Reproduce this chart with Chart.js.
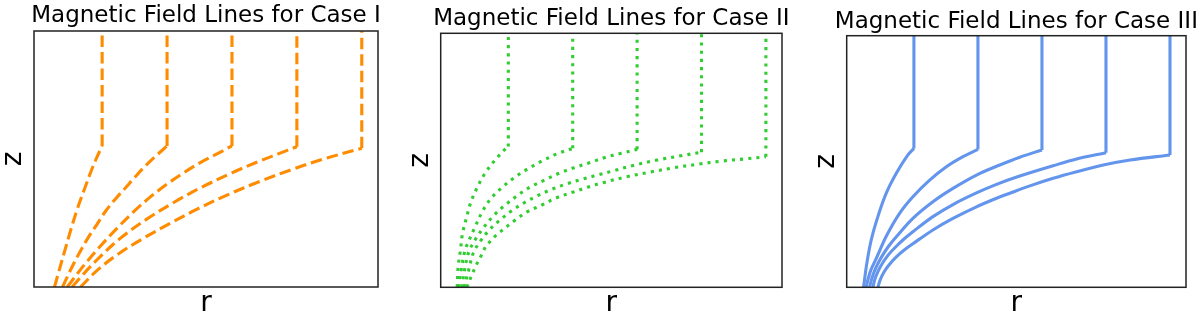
<!DOCTYPE html>
<html>
<head>
<meta charset="utf-8">
<script src="https://cdn.jsdelivr.net/npm/chart.js@4.4.1/dist/chart.umd.min.js"></script>
<style>
  body { margin: 0; background: #fff; }
  #wrap { position: relative; width: 1200px; height: 321px; }
  canvas { position: absolute; top: 0; }
</style>
</head>
<body>
<div id="wrap">
  <canvas id="caso1" width="400" height="321" style="left:0px"></canvas>
  <canvas id="caso2" width="400" height="321" style="left:400px"></canvas>
  <canvas id="caso3" width="400" height="321" style="left:800px"></canvas>
</div>
<script>
// titulos de cada panel
var titulos = ['Magnetic Field Lines for Case I', 'Magnetic Field Lines for Case II', 'Magnetic Field Lines for Case III'];

// r donde cada linea se vuelve vertical, y altura final (tope del eje)
var rVertical = [1, 2, 3, 4, 5];
var zTope = 10;

// Caso I
var case1R = [
  [0.266, 0.343, 0.428, 0.512, 0.612, 0.728, 0.843, 0.928, 1],
  [0.389, 0.543, 0.666, 0.789, 0.923, 1.055, 1.205, 1.358, 1.508, 1.666, 1.846, 2],
  [0.462, 0.615, 0.769, 0.974, 1.231, 1.486, 1.743, 2.0, 2.255, 2.512, 2.769, 3],
  [0.538, 0.692, 0.923, 1.282, 1.692, 2.102, 2.512, 3.0, 3.435, 3.723, 4],
  [0.666, 0.923, 1.231, 1.640, 2.051, 2.462, 2.923, 3.435, 3.923, 4.400, 5]
];
var case1Z = [
  [0, 0.70, 1.45, 2.19, 3.01, 3.83, 4.61, 5.12, 5.51],
  [0, 0.82, 1.41, 1.95, 2.46, 2.97, 3.44, 3.87, 4.30, 4.73, 5.16, 5.51],
  [0, 0.51, 1.00, 1.60, 2.30, 2.94, 3.52, 4.02, 4.46, 4.86, 5.20, 5.51],
  [0, 0.45, 1.07, 1.91, 2.66, 3.30, 3.87, 4.46, 4.93, 5.21, 5.48],
  [0, 0.65, 1.26, 1.91, 2.49, 3.04, 3.59, 4.13, 4.59, 4.99, 5.42]
];

// Caso II
var case2R = [
  [0.206, 0.221, 0.257, 0.288, 0.350, 0.418, 0.515, 0.639, 0.794, 0.954, 1],
  [0.229, 0.276, 0.330, 0.392, 0.474, 0.588, 0.721, 0.898, 1.093, 1.300, 1.522, 1.754, 2],
  [0.276, 0.330, 0.387, 0.489, 0.619, 0.768, 0.938, 1.130, 1.336, 1.563, 1.789, 2.022, 2.269, 2.512, 2.755, 3],
  [0.314, 0.384, 0.458, 0.567, 0.706, 0.872, 1.046, 1.248, 1.455, 1.676, 1.904, 2.141, 2.384, 2.621, 2.941, 3.313, 3.684, 4],
  [0.356, 0.433, 0.511, 0.588, 0.644, 0.717, 0.799, 0.898, 1.093, 1.300, 1.522, 1.754, 1.997, 2.229, 2.471, 2.837, 3.209, 3.580, 3.957, 4.319, 4.695, 5]
];
var case2Z = [
  [0, 0.81, 1.47, 2.10, 2.74, 3.35, 3.92, 4.49, 5.01, 5.45, 5.54],
  [0, 0.81, 1.47, 1.86, 2.32, 2.94, 3.47, 3.92, 4.32, 4.66, 4.97, 5.25, 5.47],
  [0, 0.81, 1.40, 1.89, 2.36, 2.81, 3.21, 3.59, 3.94, 4.22, 4.49, 4.71, 4.91, 5.12, 5.28, 5.43],
  [0, 0.68, 1.36, 1.82, 2.26, 2.65, 3.00, 3.33, 3.61, 3.86, 4.07, 4.25, 4.42, 4.58, 4.80, 5.01, 5.18, 5.32],
  [0, 0.48, 0.92, 1.29, 1.58, 1.80, 2.02, 2.23, 2.62, 2.98, 3.24, 3.53, 3.74, 3.94, 4.12, 4.35, 4.54, 4.71, 4.85, 4.97, 5.06, 5.14]
];

// Caso III
var case3R = [
  [0.213, 0.264, 0.333, 0.437, 0.568, 0.725, 0.906, 1],
  [0.255, 0.283, 0.330, 0.412, 0.568, 0.776, 0.984, 1.246, 1.507, 1.767, 2],
  [0.307, 0.346, 0.408, 0.495, 0.604, 0.725, 0.984, 1.297, 1.610, 1.977, 2.341, 2.654, 3],
  [0.358, 0.400, 0.478, 0.588, 0.725, 0.854, 0.984, 1.297, 1.610, 1.977, 2.290, 2.654, 3.175, 3.541, 4],
  [0.437, 0.471, 0.526, 0.604, 0.725, 0.854, 0.984, 1.297, 1.610, 1.977, 2.290, 2.498, 2.811, 3.175, 3.541, 3.958, 4.376, 5]
];
var case3Z = [
  [0, 0.95, 1.88, 2.81, 3.74, 4.53, 5.26, 5.52],
  [0, 0.32, 0.70, 1.15, 2.03, 2.94, 3.60, 4.26, 4.79, 5.19, 5.48],
  [0, 0.38, 0.79, 1.21, 1.63, 2.01, 2.74, 3.40, 3.93, 4.46, 4.86, 5.17, 5.46],
  [0, 0.40, 0.83, 1.25, 1.63, 1.94, 2.21, 2.81, 3.29, 3.75, 4.09, 4.42, 4.83, 5.10, 5.35],
  [0, 0.28, 0.58, 0.87, 1.21, 1.49, 1.73, 2.28, 2.74, 3.20, 3.54, 3.74, 4.03, 4.33, 4.59, 4.86, 5.06, 5.26]
];

var fuente = 'DejaVu Sans';

// marco negro alrededor del area y titulo centrado sobre ella
var marco = {
  id: 'marco',
  afterDraw: function(chart, args, opts) {
    var a = chart.chartArea, ctx = chart.ctx;
    ctx.save();
    ctx.strokeStyle = '#222';
    ctx.lineWidth = 1.5;
    ctx.strokeRect(a.left, a.top, a.right - a.left, a.bottom - a.top);
    ctx.fillStyle = '#000';
    ctx.font = '23px "' + fuente + '"';
    ctx.textAlign = 'center';
    ctx.textBaseline = 'alphabetic';
    ctx.fillText(opts.texto, (a.left + a.right) / 2, opts.base);
    ctx.restore();
  }
};

function armarDatasets(rs, zs, color, dash) {
  var ds = [];
  rs.forEach(function(r, i) {
    var z = zs[i];
    var base = {
      borderColor: color,
      borderWidth: 3.1,
      borderDash: dash,
      pointRadius: 0,
      fill: false
    };
    // parte curva
    ds.push(Object.assign({}, base, {
      data: r.map(function(x, j) { return {x: x, y: z[j]}; }),
      tension: 0.35
    }));
    // parte vertical hasta arriba
    ds.push(Object.assign({}, base, {
      data: [{x: rVertical[i], y: z[z.length - 1]}, {x: rVertical[i], y: zTope}],
      tension: 0
    }));
  });
  return ds;
}

function crearGrafica(id, titulo, rs, zs, color, dash, lay) {
  var ctx = document.getElementById(id).getContext('2d');
  return new Chart(ctx, {
    type: 'line',
    data: { datasets: armarDatasets(rs, zs, color, dash) },
    options: {
      responsive: false,
      animation: false,
      devicePixelRatio: 1,
      layout: { padding: { left: 0, right: lay.padR, top: lay.padT, bottom: 0 } },
      plugins: {
        legend: { display: false },
        tooltip: { enabled: false },
        title: { display: false },
        marco: { texto: titulo, base: lay.base }
      },
      scales: {
        x: {
          type: 'linear',
          min: -0.05,
          max: 5.25,
          ticks: { display: false },
          grid: { display: false, drawTicks: false },
          border: { display: false },
          title: {
            display: true, text: 'r', color: '#000',
            font: { family: fuente, size: 28, lineHeight: 1 },
            padding: { top: 0, bottom: 3.4 }
          },
          afterFit: function(s) { s.height = lay.xh; }
        },
        y: {
          min: 0,
          max: zTope,
          ticks: { display: false },
          grid: { display: false, drawTicks: false },
          border: { display: false },
          title: {
            display: true, text: 'z', color: '#000',
            font: { family: fuente, size: 28, lineHeight: 1 },
            padding: { top: lay.zPad, bottom: 0 }
          },
          afterFit: function(s) { s.width = lay.yw; }
        }
      }
    },
    plugins: [marco]
  });
}

var grafica1 = crearGrafica('caso1', titulos[0], case1R, case1Z, '#ff8c00', [11.5, 5],
  { padR: 22, padT: 31, base: 21.7, xh: 34, yw: 34, zPad: 0 });
var grafica2 = crearGrafica('caso2', titulos[1], case2R, case2Z, '#32cd32', [3.1, 5.1],
  { padR: 18, padT: 33.3, base: 25, xh: 33.7, yw: 40.7, zPad: 6.3 });
var grafica3 = crearGrafica('caso3', titulos[2], case3R, case3Z, '#6495ed', [],
  { padR: 14, padT: 35.7, base: 28.3, xh: 33.7, yw: 46.7, zPad: 12.3 });
</script>
</body>
</html>
